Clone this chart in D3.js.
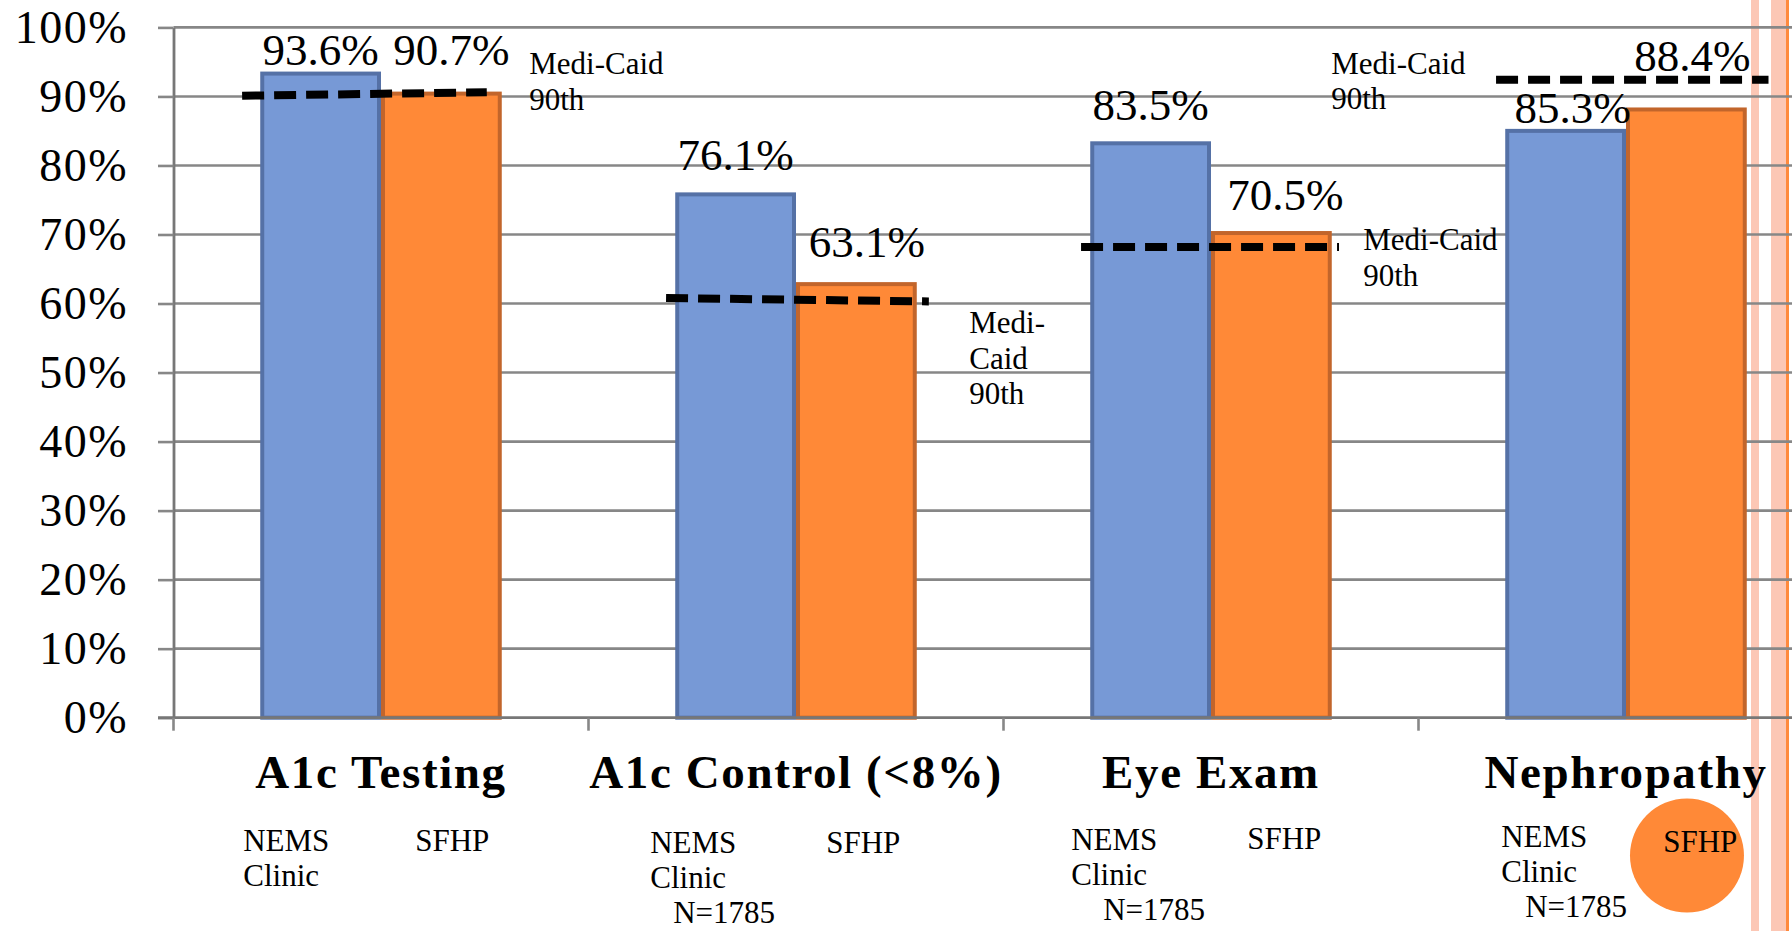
<!DOCTYPE html>
<html>
<head>
<meta charset="utf-8">
<script src="https://cdn.jsdelivr.net/npm/d3@7"></script>
<style>
  html, body { margin: 0; padding: 0; background: #fff; }
  svg { display: block; }
  text { font-family: "Liberation Serif", "Times New Roman", serif; fill: #000; }
</style>
</head>
<body>
<svg id="chart" width="1792" height="931"></svg>
<script>
// ---- data ----
const categories = ["A1c Testing", "A1c Control (<8%)", "Eye Exam", "Nephropathy"];
const seriesNames = ["NEMS Clinic", "SFHP"];
const nemsValues = [93.6, 76.1, 83.5, 85.3];
const sfhpValues = [90.7, 63.1, 70.5, 88.4];
// Medicaid 90th percentile benchmark (hand-drawn, so the ends differ slightly)
const medicaidStart = [90.1, 60.8, 68.2, 92.4];
const medicaidEnd = [90.6, 60.3, 68.2, 92.4];
const yTickValues = [0, 10, 20, 30, 40, 50, 60, 70, 80, 90, 100];

// text under each group
const nemsCaption = [["NEMS", "Clinic"], ["NEMS", "Clinic", "N=1785"], ["NEMS", "Clinic", "N=1785"], ["NEMS", "Clinic", "N=1785"]];
const sfhpCaption = ["SFHP", "SFHP", "SFHP", "SFHP"];
const noteLines = [["Medi-Caid", "90th"], ["Medi-", "Caid", "90th"], ["Medi-Caid", "90th"], ["Medi-Caid", "90th"]];

// ---- layout tweaks (pixels / fractions of group width) ----
const valueNudge = {
  "NEMS Clinic": [[0, -6.6], [0, -22.4], [0, -20.8], [7, -5.5]],
  "SFHP": [[10, -26.6], [10.5, -25.4], [14, -21], [6, -36]]
};
const refSpan = [[-0.075, 0.938], [-0.038, 1.05], [-0.038, 1.03], [-0.038, 1.09]];
const noteOffset = [[269, -20], [294, 33.3], [273, 3.5], [-174, -6]];
const nemsCapPos = [[-17, 0, 133], [-25, -2, 135.5], [-19, 13, 132.5], [-4, 20, 129]];
const sfhpCapPos = [[155, 133], [151, 135.5], [157, 131.5], [158, 134]];

const colors = {
  "NEMS Clinic": { fill: "#7799D6", stroke: "#5571A6" },
  "SFHP": { fill: "#FF8937", stroke: "#C2652B" }
};

const W = 1792, H = 931;
const svg = d3.select("#chart");

// decorative slide border stripes on the right
svg.append("rect").attr("x", 1751).attr("y", 0).attr("width", 8).attr("height", H).attr("fill", "#FCC7B5");
svg.append("rect").attr("x", 1771).attr("y", 0).attr("width", 16).attr("height", H).attr("fill", "#FCC7B5");
svg.append("rect").attr("x", 1786).attr("y", 0).attr("width", 3).attr("height", H).attr("fill", "#FF8A3D");

// ---- scales ----
const axisX = 173.5;
const y = d3.scaleLinear().domain([0, 100]).range([717.7, 27.4]);
const x0 = d3.scaleBand().domain(categories).range([axisX, axisX + 4 * 415])
  .paddingInner(0.418).paddingOuter(0.209);
const x1 = d3.scaleBand().domain(seriesNames).range([0, x0.bandwidth()]);

const rows = categories.map((c, i) => ({
  cat: c, i,
  values: [
    { s: "NEMS Clinic", v: nemsValues[i] },
    { s: "SFHP", v: sfhpValues[i] }
  ]
}));

// ---- gridlines ----
svg.append("g").selectAll("line").data(yTickValues.filter(d => d > 0)).join("line")
  .attr("x1", axisX).attr("x2", W)
  .attr("y1", d => y(d)).attr("y2", d => y(d))
  .attr("stroke", "#878787").attr("stroke-width", 2.6);

// ---- bars ----
const groups = svg.append("g").selectAll("g").data(rows).join("g")
  .attr("transform", d => `translate(${x0(d.cat)},0)`);

groups.selectAll("rect").data(d => d.values).join("rect")
  .attr("x", d => x1(d.s) + 2)
  .attr("width", x1.bandwidth() - 4)
  .attr("y", d => y(d.v) + 2)
  .attr("height", d => y(0) - y(d.v) - 2)
  .attr("fill", d => colors[d.s].fill)
  .attr("stroke", d => colors[d.s].stroke)
  .attr("stroke-width", 4);

// ---- axes ----
const yAxis = d3.axisLeft(y).tickValues(yTickValues).tickFormat(d => d + "%")
  .tickSizeInner(15.5).tickSizeOuter(0).tickPadding(30);
const gy = svg.append("g").attr("transform", `translate(${axisX},0)`).call(yAxis);
gy.select(".domain").attr("stroke", "#777").attr("stroke-width", 2.8);
gy.selectAll(".tick line").attr("stroke", "#878787").attr("stroke-width", 2.6);
gy.selectAll(".tick text")
  .style("font-family", "'Liberation Serif', serif")
  .style("font-size", "46px").style("letter-spacing", "1.5px").attr("fill", "#000");

// x axis baseline and group boundary ticks
svg.append("line").attr("x1", axisX - 15.5).attr("x2", W)
  .attr("y1", y(0)).attr("y2", y(0)).attr("stroke", "#777").attr("stroke-width", 2.8);
const step = x0.step();
svg.append("g").selectAll("line").data(categories).join("line")
  .attr("x1", d => x0(d) - x0.paddingOuter() * step).attr("x2", d => x0(d) - x0.paddingOuter() * step)
  .attr("y1", y(0)).attr("y2", y(0) + 13)
  .attr("stroke", "#878787").attr("stroke-width", 2.6);

// ---- Medicaid benchmark dashes ----
const bw = x0.bandwidth();
svg.append("g").selectAll("line").data(rows).join("line")
  .attr("x1", d => x0(d.cat) + refSpan[d.i][0] * bw)
  .attr("x2", d => x0(d.cat) + refSpan[d.i][1] * bw)
  .attr("y1", d => y(medicaidStart[d.i]))
  .attr("y2", d => y(medicaidEnd[d.i]))
  .attr("stroke", "#000").attr("stroke-width", 8)
  .attr("stroke-dasharray", "22 10");

// benchmark notes
rows.forEach(d => {
  const ly = (y(medicaidStart[d.i]) + y(medicaidEnd[d.i])) / 2;
  const t = svg.append("text")
    .attr("x", x0(d.cat) + noteOffset[d.i][0])
    .attr("y", ly + noteOffset[d.i][1])
    .style("font-size", "31px");
  noteLines[d.i].forEach((ln, k) => {
    t.append("tspan").attr("x", x0(d.cat) + noteOffset[d.i][0])
      .attr("dy", k === 0 ? 0 : 35.5).text(ln);
  });
});

// ---- value labels ----
groups.selectAll("text.val").data(d => d.values.map(v => ({ ...v, i: d.i }))).join("text")
  .attr("class", "val")
  .attr("x", d => x1(d.s) + x1.bandwidth() / 2 + valueNudge[d.s][d.i][0])
  .attr("y", d => y(d.v) + valueNudge[d.s][d.i][1])
  .attr("text-anchor", "middle")
  .style("font-size", "45px")
  .text(d => d.v.toFixed(1) + "%");

// ---- category labels ----
svg.append("g").selectAll("text").data(categories).join("text")
  .attr("x", d => x0(d) + bw / 2)
  .attr("y", y(0) + 70.5)
  .attr("text-anchor", "middle")
  .style("font-size", "47px").style("font-weight", "bold").style("letter-spacing", "1.6px")
  .text(d => d);

// highlight behind the last SFHP caption
const lastCat = categories[categories.length - 1];
svg.append("ellipse")
  .attr("cx", x0(lastCat) + x1("SFHP") + x1.bandwidth() / 2 + 0.6)
  .attr("cy", y(0) + 137.8)
  .attr("rx", 57).attr("ry", 57)
  .attr("fill", "#FF8937");

// ---- series captions under each group ----
rows.forEach(d => {
  const gx = x0(d.cat);
  const p = nemsCapPos[d.i];
  const t = svg.append("text").attr("y", y(0) + p[2]).style("font-size", "31px");
  nemsCaption[d.i].forEach((ln, k) => {
    t.append("tspan").attr("x", gx + (k === 2 ? p[1] : p[0]))
      .attr("dy", k === 0 ? 0 : 35).text(ln);
  });
  svg.append("text")
    .attr("x", gx + sfhpCapPos[d.i][0])
    .attr("y", y(0) + sfhpCapPos[d.i][1])
    .style("font-size", "31px")
    .text(sfhpCaption[d.i]);
});
</script>
</body>
</html>
